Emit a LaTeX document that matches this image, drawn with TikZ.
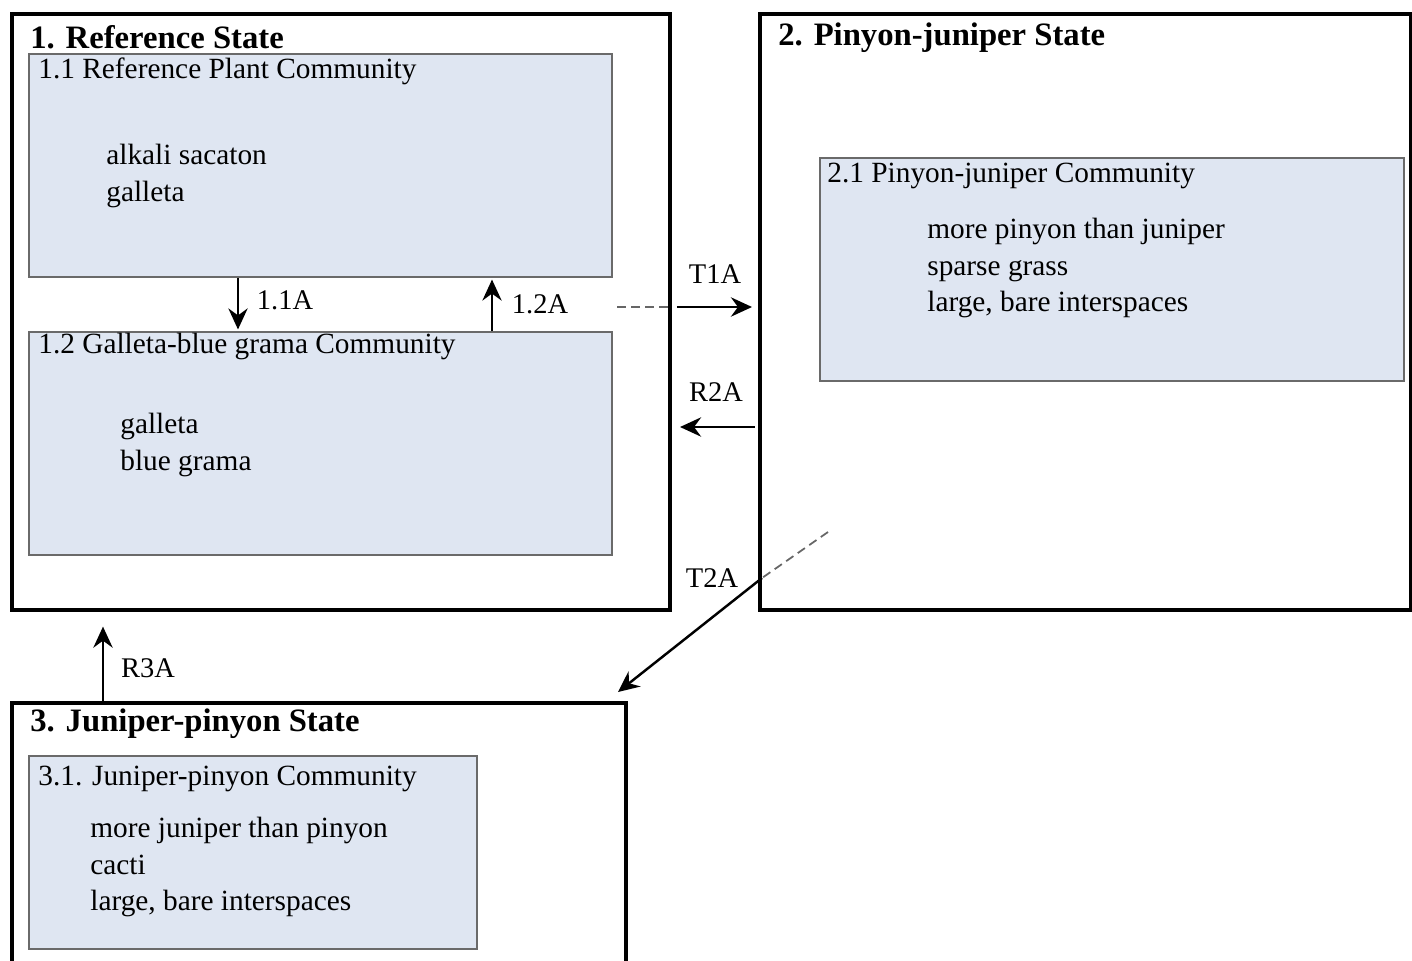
\documentclass[tikz,border=0pt]{standalone}
\usepackage{fontspec}
\setmainfont{Liberation Serif}
\usetikzlibrary{arrows.meta,fit}
\definecolor{commfill}{HTML}{DFE6F2}
\definecolor{commline}{HTML}{6A6A6A}

\begin{document}
\begin{tikzpicture}[x=0.02cm,y=-0.02cm,
  statebox/.style={draw=black,line width=1.9pt,inner sep=0pt},
  commbox/.style={draw=commline,fill=commfill,line width=0.9pt,inner sep=0pt},
  statetitle/.style={anchor=west,inner sep=0pt,font=\fontsize{18.6}{22}\selectfont\bfseries},
  commtitle/.style={anchor=west,inner sep=0pt,font=\fontsize{16.7}{20}\selectfont},
  species/.style={anchor=west,inner sep=0pt,align=left,font=\fontsize{16.7}{21}\selectfont},
  translab/.style={inner sep=0pt,font=\fontsize{16.2}{18}\selectfont},
  trans/.style={-{Stealth[length=12pt,width=11pt,inset=4pt]},line width=1.4pt},
  commshift/.style={trans,line width=1pt},
  dashlink/.style={dash pattern=on 5pt off 3pt,gray!80!black,line width=1pt}]
\useasboundingbox (0,0) rectangle (1412,960);
% states
\node[statebox,fit={(12,14) (670,610)}] (s1) {};
\node[statebox,fit={(760,14) (1411,610)}] (s2) {};
\draw[line width=1.9pt] (12,1000) |- (626,703) -- (626,1000);
\node[inner sep=0pt,fit={(12,703) (626,703)}] (s3) {};
% communities
\node[commbox,fit={(29,54) (612,277)}] (c11) {};
\node[commbox,fit={(29,332) (612,555)}] (c12) {};
\node[commbox,fit={(820,158) (1404,381)}] (c21) {};
\node[commbox,fit={(29,756) (477,949)}] (c31) {};
% texts
\node[statetitle] (t1) at (30,37) {1. Reference State};
\node[statetitle] (t2) at (778,38) {2. Pinyon-juniper State};
\node[statetitle] (t3) at (30,724) {3. Juniper-pinyon State};
\node[commtitle] (t11) at (38,71) {1.1 Reference Plant Community};
\node[commtitle] (t12) at (38,346) {1.2 Galleta-blue grama Community};
\node[commtitle] (t21) at (827,176) {2.1 Pinyon-juniper Community};
\node[commtitle] (t31) at (38,779) {3.1. Juniper-pinyon Community};
\node[species] (sp11) at (106,176) {alkali sacaton\\galleta};
\node[species] (sp12) at (120,445) {galleta\\blue grama};
\node[species] (sp21) at (927,268) {more pinyon than juniper\\sparse grass\\large, bare interspaces};
\node[species] (sp31) at (90,867) {more juniper than pinyon\\cacti\\large, bare interspaces};
% transitions
\coordinate (x11) at (238,0);
\coordinate (x12) at (492,0);
\coordinate (x3) at (103,0);
\coordinate (y1) at (0,307);
\coordinate (y2) at (0,427);
\coordinate (d1) at (617,307);
\coordinate (e1) at (752,307);
\coordinate (e2) at (680,427);
\coordinate (d2) at (828,532);
\coordinate (k2) at (762,578);
\coordinate (e3) at (618,692);
\draw[commshift] (c11.south -| x11) -- ([yshift=1pt]c12.north -| x11);
\draw[commshift] (c12.north -| x12) -- ([yshift=-1pt]c11.south -| x12);
\draw[dashlink] (d1) -- ([xshift=-1pt]s1.east |- y1);
\draw[trans] ([xshift=3pt]s1.east |- y1) -- (e1);
\draw[trans] ([xshift=-2pt]s2.west |- y2) -- (e2);
\draw[dashlink] (d2) -- (k2);
\draw[trans] (k2) -- (e3);
\draw[trans] (s3.north -| x3) -- ([yshift=-8.5pt]s1.south -| x3);
\node[translab] (l11) at (285,300) {1.1A};
\node[translab] (l12) at (540,304) {1.2A};
\node[translab] (lt1) at (715,274) {T1A};
\node[translab] (lr2) at (716,392) {R2A};
\node[translab] (lt2) at (712,578) {T2A};
\node[translab] (lr3) at (148,668) {R3A};
\end{tikzpicture}
\end{document}
